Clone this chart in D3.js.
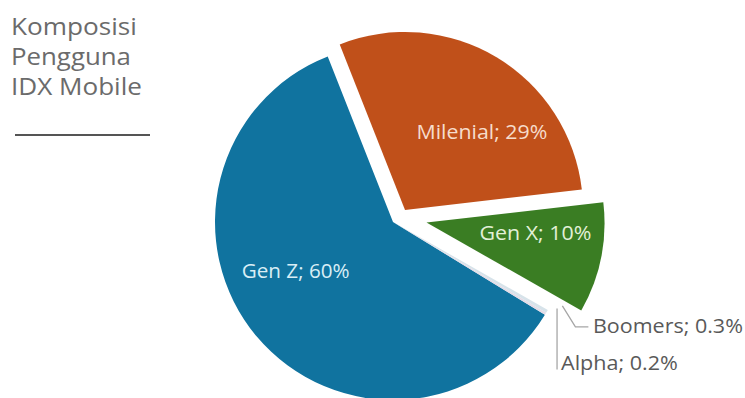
<!DOCTYPE html>
<html><head><meta charset="utf-8">
<script src="https://cdn.jsdelivr.net/npm/d3@7"></script>
<style>html,body{margin:0;padding:0;background:#fff;}svg{display:block;}</style>
</head><body>
<svg id="chart" width="745" height="398"></svg>
<script>
// ---- data ----
const categories = ["Gen Z", "Milenial", "Gen X", "Boomers", "Alpha"];
const values = [60, 29, 10, 0.3, 0.2];
const titleLines = ["Komposisi", "Pengguna", "IDX Mobile"];

// ---- styles / layout ----
const colors = ["#10739f", "#c0501a", "#3a7d23", "#d7e3ea", "#e3dbe6"];
// explosion: distance (px) and direction (deg, null = slice bisector)
const explode = [[0, null], [17, 45], [33.5, 91], [0, null], [0, null]];
const cx = 393, cy = 222, R = 178;
const startDeg = 121.4;
const font = "'Open Sans', sans-serif";

const svg = d3.select("#chart");
const toRad = d => d * Math.PI / 180;
const polar = (a, r) => [Math.sin(a) * r, -Math.cos(a) * r];

// stretch a text horizontally to a target width (glyph scaling)
function fitWidth(sel, target) {
  sel.each(function () {
    const t = d3.select(this);
    const w = this.getComputedTextLength();
    const x = +t.attr("x"), y = +t.attr("y");
    const k = target / w;
    t.attr("transform", `translate(${x},${y}) scale(${k},1) translate(${-x},${-y})`);
  });
}

const pie = d3.pie().sort(null).value(d => d.v)
  .startAngle(toRad(startDeg)).endAngle(toRad(startDeg) + 2 * Math.PI);
const data = categories.map((c, i) => ({ c, v: values[i], i }));
const arcs = pie(data);
const arc = d3.arc().innerRadius(0).outerRadius(R);

const g = svg.append("g").attr("transform", `translate(${cx},${cy})`);
const slices = g.selectAll("g.slice").data(arcs).join("g")
  .attr("class", "slice")
  .attr("transform", d => {
    const [dist, dir] = explode[d.data.i];
    const m = dir == null ? (d.startAngle + d.endAngle) / 2 : toRad(dir);
    const [x, y] = polar(m, dist);
    return `translate(${x},${y})`;
  });
slices.append("path").attr("d", arc).attr("fill", (d, i) => colors[i]);

// inner labels: angle shift (deg) and radius from slice vertex
const inner = { 0: { da: 13.3, rho: 109, fill: "#d9eef6", w: 108 },
                1: { da: 13.7, rho: 109.5, fill: "#f6dccc", w: 131 },
                2: { da: -6, rho: 109.5, fill: "#e2f0d8", w: 112 } };
slices.each(function (d) {
  const cfg = inner[d.data.i];
  if (!cfg) return;
  const m = (d.startAngle + d.endAngle) / 2 + toRad(cfg.da);
  const [x, y] = polar(m, cfg.rho);
  d3.select(this).append("text")
    .attr("x", x).attr("y", y).attr("dy", "0.36em")
    .attr("text-anchor", "middle")
    .attr("font-family", font).attr("font-size", 20)
    .attr("fill", cfg.fill)
    .text(`${d.data.c}; ${d.data.v}%`)
    .call(fitWidth, cfg.w);
});

// outer labels with leader lines (for tiny slices)
const outer = {
  3: { lx: 200, ly: 104, w: 150, path: [[0, 0], [13, 21], [26, 21]] },
  4: { lx: 168, ly: 141, w: 117, path: [[-4, 0], [-4, 61]] }
};
arcs.forEach(d => {
  const cfg = outer[d.data.i];
  if (!cfg) return;
  const m = (d.startAngle + d.endAngle) / 2 - toRad(3.8);
  const [sx, sy] = polar(m, R + 11);
  const pts = cfg.path.map(p => [sx + p[0], sy + p[1]]);
  g.append("path").attr("d", d3.line()(pts))
    .attr("fill", "none").attr("stroke", "#a6a6a6").attr("stroke-width", 1.3);
  g.append("text")
    .attr("x", cfg.lx).attr("y", cfg.ly).attr("dy", "0.36em")
    .attr("font-family", font).attr("font-size", 19.5).attr("fill", "#595959")
    .text(`${d.data.c}; ${d.data.v}%`)
    .call(fitWidth, cfg.w);
});

// title
const titleWidths = [126, 120, 131];
svg.append("g").selectAll("text").data(titleLines).join("text")
  .attr("x", 11).attr("y", (d, i) => 35 + i * 30)
  .attr("font-family", font).attr("font-size", 24).attr("fill", "#6b6b6b")
  .text(d => d)
  .each(function (d, i) { d3.select(this).call(fitWidth, titleWidths[i]); });
svg.append("line").attr("x1", 15).attr("x2", 150).attr("y1", 135).attr("y2", 135)
  .attr("stroke", "#555").attr("stroke-width", 2);
</script>
</body></html>
